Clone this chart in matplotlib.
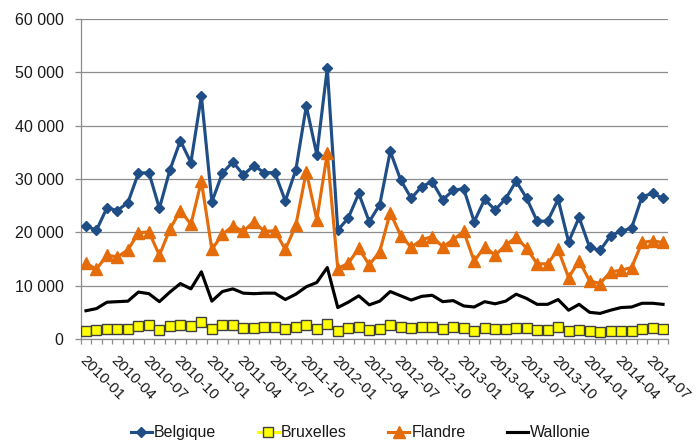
import matplotlib
matplotlib.use("Agg")
import matplotlib.pyplot as plt
import matplotlib.transforms as mtransforms
import numpy as np
from matplotlib import font_manager
from matplotlib.ticker import FuncFormatter, FixedLocator

### monthly figures 2010-01 .. 2014-08
months = ["%d-%02d" % (2010 + i // 12, i % 12 + 1) for i in range(56)]

belgique = [21200, 20400, 24600, 24100, 25600, 31100, 31200, 24500, 31700, 37200, 33100, 45600,
            25700, 31100, 33200, 30800, 32500, 31200, 31200, 25900, 31700, 43700, 34600, 50800,
            20400, 22700, 27300, 22000, 25200, 35200, 29800, 26400, 28600, 29500, 26100, 27900,
            28200, 22000, 26200, 24200, 26300, 29600, 26400, 22100, 22100, 26200, 18200, 22800,
            17200, 16600, 19400, 20200, 20800, 26700, 27300, 26400]
bruxelles = [1560, 1750, 1940, 1820, 1940, 2500, 2630, 1750, 2500, 2630, 2500, 3250,
             1940, 2560, 2560, 2130, 2130, 2250, 2250, 1820, 2190, 2690, 1820, 2750,
             1560, 2000, 2190, 1750, 1820, 2630, 2250, 2000, 2250, 2250, 1820, 2190,
             2000, 1560, 2000, 1820, 1820, 2130, 2130, 1690, 1690, 2190, 1440, 1750,
             1440, 1380, 1500, 1500, 1500, 1820, 2060, 1880]
flandre = [14200, 13100, 15700, 15400, 16700, 19900, 20100, 15700, 20600, 24100, 21500, 29600,
           16800, 19600, 21200, 20200, 22000, 20200, 20300, 16800, 21300, 31400, 22400, 34800,
           13200, 14200, 17000, 13900, 16400, 23700, 19400, 17200, 18600, 19200, 17300, 18600,
           20200, 14600, 17300, 15700, 17600, 19100, 17000, 14100, 14100, 16800, 11500, 14700,
           10900, 10400, 12600, 12900, 13400, 18100, 18400, 18100]
wallonie = [5300, 5700, 6900, 7000, 7100, 8800, 8500, 7000, 8800, 10400, 9400, 12600,
            7100, 8900, 9400, 8600, 8500, 8600, 8600, 7400, 8400, 9800, 10600, 13400,
            5900, 6900, 8100, 6400, 7100, 8900, 8100, 7300, 8000, 8200, 7000, 7200,
            6200, 6000, 7000, 6600, 7100, 8400, 7600, 6500, 6500, 7400, 5400, 6500,
            5000, 4800, 5400, 5900, 6000, 6700, 6700, 6500]

# narrow face if there is one, else plain Liberation a bit smaller
installed = {f.name for f in font_manager.fontManager.ttflist}
if 'Liberation Sans Narrow' in installed:
    plt.rcParams['font.family'] = ['Liberation Sans Narrow', 'DejaVu Sans']
    fs, xfs = 13, 13
else:
    plt.rcParams['font.family'] = ['Liberation Sans', 'DejaVu Sans']
    fs, xfs = 11.5, 11
grey = '#8c8c8c'
txt = '#1a1a1a'

fig = plt.figure(figsize=(6.97, 4.44), dpi=100)
ax = fig.add_axes([0.1158, 0.2365, 0.843, 0.7205])

x = np.arange(len(months))
ax.plot(x, belgique, color='#1f4e87', lw=2.25, marker='D', ms=5.5, label='Belgique', zorder=3)
ax.plot(x, bruxelles, color='#ffff00', lw=2.25, marker='s', ms=7, mfc='#ffff00',
        mec='#404040', mew=1, label='Bruxelles', zorder=3)
ax.plot(x, flandre, color='#e46c0a', lw=2.25, marker='^', ms=8, label='Flandre', zorder=3)
ax.plot(x, wallonie, color='black', lw=2.25, label='Wallonie', zorder=3)

ax.set_xlim(-0.5, len(months) - 0.5)
ax.set_ylim(0, 60000)
ax.set_yticks(np.arange(0, 60001, 10000))
ax.yaxis.set_major_formatter(FuncFormatter(lambda v, p: '{:,.0f}'.format(v).replace(',', ' ')))
ax.grid(axis='y', color=grey, lw=0.9, zorder=0)

ax.set_xticks(x[::3])
ax.set_xticklabels(months[::3], rotation=-45, ha='left', va='center', rotation_mode='anchor')
ax.xaxis.set_minor_locator(FixedLocator(np.arange(-0.5, len(months), 1)))
ax.tick_params(axis='x', which='major', length=0, pad=14, labelsize=xfs, labelcolor=txt)
ax.tick_params(axis='x', which='minor', length=3.6, width=0.9, color=grey)
ax.tick_params(axis='y', length=4.3, width=0.9, color=grey, pad=8, labelsize=fs, labelcolor=txt)

# nudge the slanted month labels a little to the left
shift = mtransforms.ScaledTranslation(-3 / 72, 0, fig.dpi_scale_trans)
for lab in ax.get_xticklabels():
    lab.set_transform(lab.get_transform() + shift)

for s in ['top', 'right']:
    ax.spines[s].set_visible(False)
for s in ['left', 'bottom']:
    ax.spines[s].set_color(grey)
    ax.spines[s].set_linewidth(0.9)

leg = fig.legend(loc='center', bbox_to_anchor=(0.518, 0.025), ncol=4, frameon=False,
                 fontsize=fs, handlelength=1.3, handletextpad=0.15, columnspacing=2.6)
for t in leg.get_texts():
    t.set_color(txt)

fig.savefig('out.png', dpi=100)
